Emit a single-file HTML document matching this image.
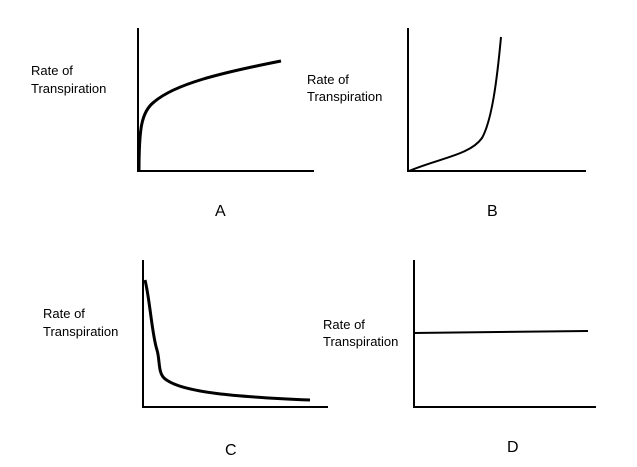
<!DOCTYPE html>
<html><head><meta charset="utf-8"><style>
html,body{margin:0;padding:0;background:#fff;}
svg{display:block}
text{font-family:"Liberation Sans",Arial,sans-serif;fill:#000}
</style></head><body>
<svg width="637" height="467" viewBox="0 0 637 467" xmlns="http://www.w3.org/2000/svg">
<g stroke="#000" fill="none" stroke-width="2">
<path d="M138 28 V171 H314"/>
<path d="M139 171 C139 130 141 112 154 102 C175 84 220 73 281 61" stroke-width="3"/>
<path d="M408 28 V171 H586"/>
<path d="M409 171 C440 158 470 155 482 138 C492 120 497 80 501 37"/>
<path d="M143 260 V407 H328"/>
<path d="M145 280 C150 300 152 335 157 350 C160 360 158 372 164 378 C180 393 240 397 310 400" stroke-width="3"/>
<path d="M414 260 V407 H596"/>
<path d="M413 333 L588 331"/>
</g>
<g font-size="13">
<text x="31" y="75">Rate of</text><text x="31" y="93">Transpiration</text>
<text x="307" y="84">Rate of</text><text x="307" y="101">Transpiration</text>
<text x="43" y="318">Rate of</text><text x="43" y="336">Transpiration</text>
<text x="323" y="329">Rate of</text><text x="323" y="346">Transpiration</text>
</g>
<g font-size="16">
<text x="215" y="216">A</text>
<text x="487" y="216">B</text>
<text x="225" y="455">C</text>
<text x="507" y="452">D</text>
</g>
</svg>
</body></html>
